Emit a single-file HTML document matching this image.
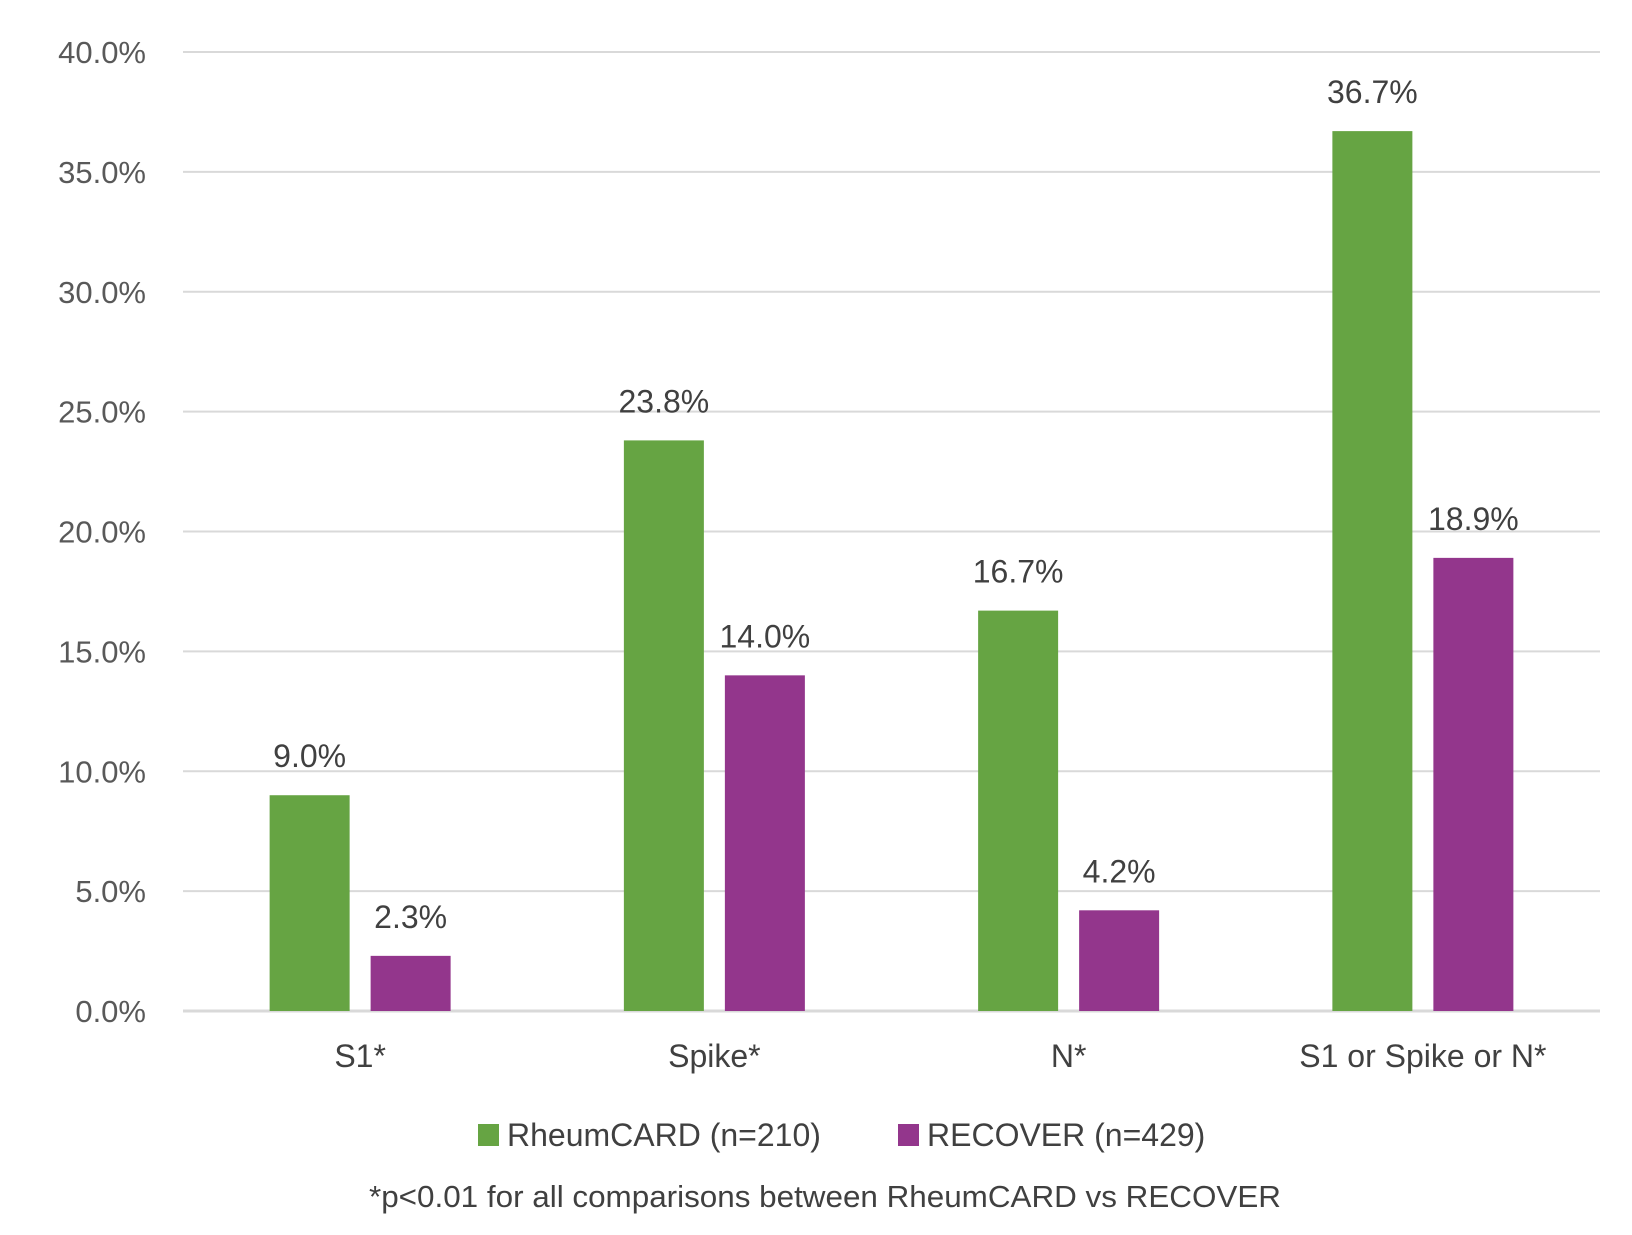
<!DOCTYPE html>
<html><head><meta charset="utf-8"><style>
body{margin:0;background:#fff;}
svg text{font-family:"Liberation Sans",sans-serif;}
</style></head><body>
<svg id="chart" width="1632" height="1230" xmlns="http://www.w3.org/2000/svg"></svg>
<script>
const categories = ["S1*", "Spike*", "N*", "S1 or Spike or N*"];
const rheumcard = [9.0, 23.8, 16.7, 36.7];
const recover = [2.3, 14.0, 4.2, 18.9];
const yTicks = [0, 5, 10, 15, 20, 25, 30, 35, 40];

const svg = document.getElementById('chart');
const NS = 'http://www.w3.org/2000/svg';
const x0 = 183, x1 = 1600, yTop = 52, yBot = 1011, yMax = 40;
const y = v => yBot - (v / yMax) * (yBot - yTop);
const bandW = (x1 - x0) / categories.length;
const bandC = i => x0 + bandW * (i + 0.5);
const barW = 80, gap = 21;

function mk(tag, attrs, text) {
  const e = document.createElementNS(NS, tag);
  for (const k in attrs) e.setAttribute(k, attrs[k]);
  if (text !== undefined) e.textContent = text;
  svg.appendChild(e);
  return e;
}

yTicks.forEach(t => {
  const g = mk('line', {x1: x0, x2: x1, y1: y(t), y2: y(t), stroke: '#d9d9d9', 'stroke-width': t === 0 ? 3 : 2});
  
  
  const l = mk('text', {x: 146, y: y(t) + 11, 'text-anchor': 'end', 'font-size': 31, fill: '#595959'}, t.toFixed(1) + '%');
  
  
});

categories.forEach((c, i) => {
  const cx = bandC(i);
  const gx = cx - gap / 2 - barW, px = cx + gap / 2;
  const gb = mk('rect', {x: gx, y: y(rheumcard[i]), width: barW, height: yBot - y(rheumcard[i]), fill: '#66a443'});
  
  
  const pb = mk('rect', {x: px, y: y(recover[i]), width: barW, height: yBot - y(recover[i]), fill: '#93368c'});
  
  
  const gl = mk('text', {x: gx + barW / 2, y: y(rheumcard[i]) - 28, 'text-anchor': 'middle', 'font-size': 32, fill: '#404040'}, rheumcard[i].toFixed(1) + '%');
  
  
  const pl = mk('text', {x: px + barW / 2, y: y(recover[i]) - 28, 'text-anchor': 'middle', 'font-size': 32, fill: '#404040'}, recover[i].toFixed(1) + '%');
  
  
  const xl = mk('text', {x: cx, y: 1067, 'text-anchor': 'middle', 'font-size': 32, fill: '#404040'}, c);
  
  
});

const s1 = mk('rect', {x: 478, y: 1124, width: 21, height: 22, fill: '#66a443'});


const t1 = mk('text', {x: 507, y: 1146, 'font-size': 32, fill: '#404040'}, 'RheumCARD (n=210)');


const s2 = mk('rect', {x: 898, y: 1124, width: 21, height: 22, fill: '#93368c'});


const t2 = mk('text', {x: 927, y: 1146, 'font-size': 32, fill: '#404040'}, 'RECOVER (n=429)');


const fn = mk('text', {x: 825, y: 1207, 'text-anchor': 'middle', 'font-size': 31, fill: '#404040', textLength: 912, lengthAdjust: 'spacingAndGlyphs'}, '*p<0.01 for all comparisons between RheumCARD vs RECOVER');


</script>
</body></html>
